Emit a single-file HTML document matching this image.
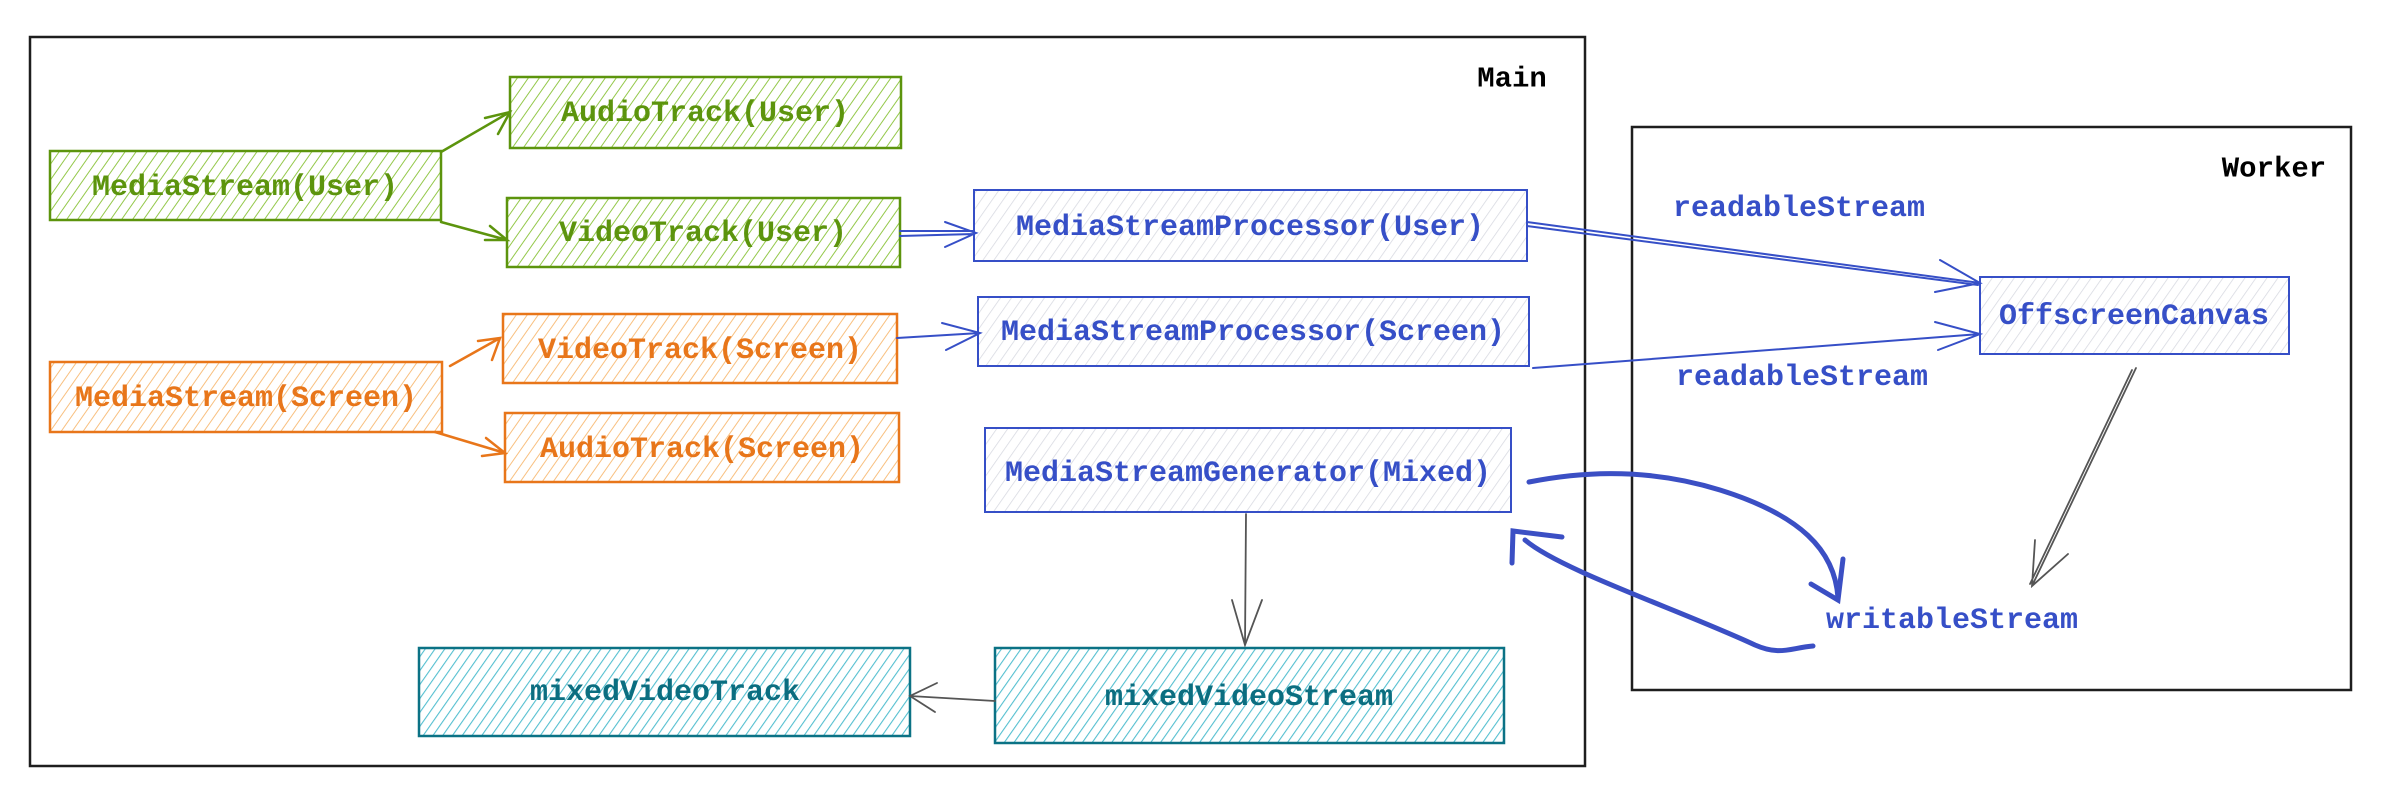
<!DOCTYPE html>
<html><head><meta charset="utf-8"><style>
html,body{margin:0;padding:0;background:#fff;}
svg{display:block}
text{font-family:"Liberation Mono",monospace;font-size:30px;font-weight:bold;dominant-baseline:central;text-anchor:middle}
</style></head><body>
<svg width="2390" height="798" viewBox="0 0 2390 798" xmlns="http://www.w3.org/2000/svg">
<defs>
<pattern id="hg" width="9" height="9" patternUnits="userSpaceOnUse" patternTransform="rotate(35)"><line x1="0" y1="0" x2="0" y2="9" stroke="#94c84a" stroke-width="2"/></pattern>
<pattern id="ho" width="9" height="9" patternUnits="userSpaceOnUse" patternTransform="rotate(35)"><line x1="0" y1="0" x2="0" y2="9" stroke="#f8c080" stroke-width="2"/></pattern>
<pattern id="hb" width="9" height="9" patternUnits="userSpaceOnUse" patternTransform="rotate(35)"><line x1="0" y1="0" x2="0" y2="9" stroke="#d6d8e0" stroke-width="1.5"/></pattern>
<pattern id="ht" width="8" height="8" patternUnits="userSpaceOnUse" patternTransform="rotate(35)"><line x1="0" y1="0" x2="0" y2="8" stroke="#55bfd0" stroke-width="2.2"/></pattern>
</defs>
<rect x="30" y="37" width="1555" height="729" fill="none" stroke="#1e1e1e" stroke-width="2.5"/>
<rect x="1632" y="127" width="719" height="563" fill="none" stroke="#1e1e1e" stroke-width="2.5"/>
<text x="1512" y="79" fill="#000" style="font-size:29px">Main</text>
<text x="2274" y="169" fill="#000" style="font-size:29px">Worker</text>

<g stroke="#5c940d" stroke-width="2.5">
<rect x="50" y="151" width="391" height="69" fill="url(#hg)"/>
<rect x="510" y="77" width="391" height="71" fill="url(#hg)"/>
<rect x="507" y="198" width="393" height="69" fill="url(#hg)"/>
</g>
<g fill="#5c940d">
<text x="245" y="188">MediaStream(User)</text>
<text x="705" y="114">AudioTrack(User)</text>
<text x="703" y="234">VideoTrack(User)</text>
</g>
<g stroke="#e8761a" stroke-width="2.5">
<rect x="50" y="362" width="392" height="70" fill="url(#ho)"/>
<rect x="503" y="314" width="394" height="69" fill="url(#ho)"/>
<rect x="505" y="413" width="394" height="69" fill="url(#ho)"/>
</g>
<g fill="#e8761a">
<text x="246" y="399">MediaStream(Screen)</text>
<text x="700" y="351">VideoTrack(Screen)</text>
<text x="702" y="450">AudioTrack(Screen)</text>
</g>
<g stroke="#364fc7" stroke-width="2">
<rect x="974" y="190" width="553" height="71" fill="url(#hb)"/>
<rect x="978" y="297" width="551" height="69" fill="url(#hb)"/>
<rect x="985" y="428" width="526" height="84" fill="url(#hb)"/>
<rect x="1980" y="277" width="309" height="77" fill="url(#hb)"/>
</g>
<g fill="#364fc7">
<text x="1250" y="228">MediaStreamProcessor(User)</text>
<text x="1253" y="333">MediaStreamProcessor(Screen)</text>
<text x="1248" y="474">MediaStreamGenerator(Mixed)</text>
<text x="2134" y="317">OffscreenCanvas</text>
<text x="1799" y="209">readableStream</text>
<text x="1802" y="378">readableStream</text>
<text x="1952" y="621">writableStream</text>
</g>
<g stroke="#0b7285" stroke-width="2.5">
<rect x="419" y="648" width="491" height="88" fill="url(#ht)"/>
<rect x="995" y="648" width="509" height="95" fill="url(#ht)"/>
</g>
<g fill="#0b6e80">
<text x="665" y="693">mixedVideoTrack</text>
<text x="1249" y="698">mixedVideoStream</text>
</g>

<g fill="none" stroke-width="2.5" stroke-linecap="round">
<g stroke="#5c940d">
<path d="M441 152 L510 112 M485 118 L510 112 L498 134"/>
<path d="M441 222 L507 240 M490 226 L507 240 L485 240"/>
</g>
<g stroke="#e8761a">
<path d="M450 366 L500 338 M478 341 L500 338 L492 360"/>
<path d="M435 432 L505 453 M486 438 L505 453 L482 456"/>
</g>
<g stroke="#364fc7" stroke-width="2">
<path d="M900 231 L974 231 M900 236 L974 234 M945 222 L976 233 L945 247"/>
<path d="M897 338 L980 333 M942 323 L980 333 L946 350"/>
<path d="M1527 222 L1980 283 M1527 226 L1978 285 M1940 260 L1980 283 L1935 292"/>
<path d="M1533 368 L1980 334 M1935 322 L1980 334 L1938 350"/>
</g>
<g stroke="#555" stroke-width="1.8">
<path d="M2136 368 L2032 586 M2132 370 L2030 584 M2035 540 L2032 586 L2068 554"/>
<path d="M1246 514 L1245 645 M1232 600 L1245 645 L1262 600"/>
<path d="M995 701 L910 696 M937 683 L910 696 L935 712"/>
</g>
<g stroke="#3b4fc4" stroke-width="5">
<path d="M1529 482 C1570 474 1640 465 1720 490 C1800 515 1835 550 1838 598"/>
<path d="M1811 584 L1838 600 L1843 559"/>
<path d="M1813 646 C1790 648 1780 656 1755 645 C1680 610 1560 570 1525 540"/>
<path d="M1562 537 L1513 531 L1512 563"/>
</g>
</g>
</svg>
</body></html>
